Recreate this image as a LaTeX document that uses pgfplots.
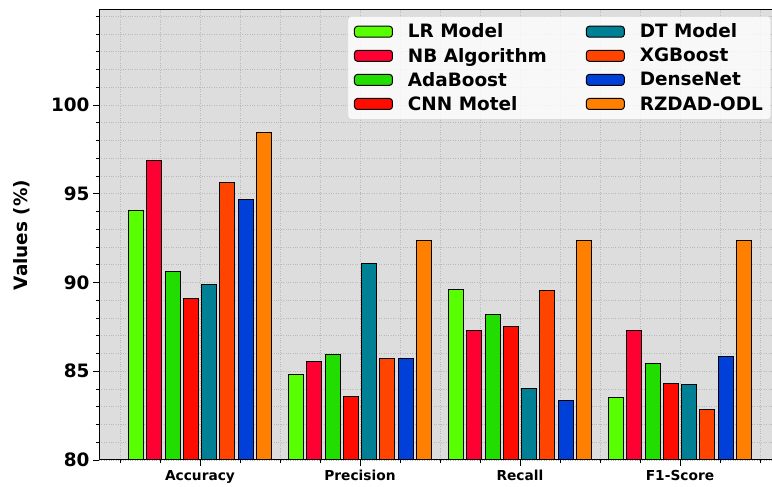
\documentclass[border=0pt]{standalone}
\usepackage{fontspec}
\setmainfont{DejaVu Sans}
\usepackage{pgfplots}
\pgfplotsset{compat=1.18}
\definecolor{bgc}{RGB}{221,221,221}
\definecolor{clr}{RGB}{88,255,0}
\definecolor{cnb}{RGB}{255,0,51}
\definecolor{cada}{RGB}{34,221,0}
\definecolor{ccnn}{RGB}{255,12,0}
\definecolor{cdt}{RGB}{0,128,148}
\definecolor{cxgb}{RGB}{255,68,0}
\definecolor{cden}{RGB}{0,64,216}
\definecolor{crz}{RGB}{255,128,0}
\begin{document}
\begin{tikzpicture}[x=1bp,y=1bp]
\useasboundingbox (0,0) rectangle (772,487);
\begin{axis}[
  at={(99bp,27bp)}, anchor=south west,
  scale only axis, width=676bp, height=450bp,
  xmin=-0.631, xmax=3.594, ymin=80, ymax=105.35,
  axis background/.style={fill=bgc},
  ybar, bar width=0.094,
  xtick={0,1,2,3}, xticklabels={Accuracy,Precision,Recall,F1-Score},
  minor xtick={-0.5,-0.25,0.25,0.5,0.75,1.25,1.5,1.75,2.25,2.5,2.75,3.25,3.5},
  ytick={80,85,90,95,100},
  minor ytick={81,82,83,84,86,87,88,89,91,92,93,94,96,97,98,99,101,102,103,104,105},
  grid=both,
  major grid style={dotted, gray!55, line width=0.6bp},
  minor grid style={dotted, gray!55, line width=0.6bp},
  tick align=outside, major tick length=6bp, minor tick length=3.5bp,
  tick style={black, line width=0.8bp},
  xtick pos=bottom, ytick pos=left,
  axis line style={black, line width=1bp},
  /pgf/number format/assume math mode=true,
  yticklabel style={font=\fontsize{18.5}{20}\selectfont\bfseries},
  xticklabel style={font=\fontsize{13.8}{16}\selectfont\bfseries, yshift=-1bp},
  every axis y label/.style={at={(axis description cs:-0.1139,0.5)}, anchor=center, rotate=90, font=\fontsize{18.5}{20}\selectfont\bfseries},
  ylabel={Values (\%)},
  legend columns=4, transpose legend,
  legend cell align=left,
  legend image code/.code={\draw[#1,line width=1bp,fill opacity=1,draw opacity=1] (0bp,-5.5bp) rectangle (38bp,5.5bp);},
  legend style={at={(axis description cs:0.368,0.986)}, anchor=north west,
    fill=white, fill opacity=0.8, text opacity=1, draw=gray!35, rounded corners=3bp,
    font=\fontsize{18.5}{21}\selectfont\bfseries, row sep=4.6bp,
    /tikz/every odd column/.append style={column sep=13bp},
    /tikz/every even column/.append style={column sep=37bp},
    inner xsep=6bp, inner ysep=5.5bp},
]
\addplot[fill=clr, draw=black, line width=1bp, bar shift=-0.399] coordinates {(0,94.05) (1,84.8) (2,89.6) (3,83.5)};
\addlegendentry{LR Model}
\addplot[fill=cnb, draw=black, line width=1bp, bar shift=-0.285] coordinates {(0,96.85) (1,85.55) (2,87.27) (3,87.27)};
\addlegendentry{NB Algorithm}
\addplot[fill=cada, draw=black, line width=1bp, bar shift=-0.171] coordinates {(0,90.6) (1,85.97) (2,88.17) (3,85.45)};
\addlegendentry{AdaBoost}
\addplot[fill=ccnn, draw=black, line width=1bp, bar shift=-0.057] coordinates {(0,89.12) (1,83.6) (2,87.5) (3,84.32)};
\addlegendentry{CNN Motel}
\addplot[fill=cdt, draw=black, line width=1bp, bar shift=0.057] coordinates {(0,89.9) (1,91.08) (2,84.02) (3,84.24)};
\addlegendentry{DT Model}
\addplot[fill=cxgb, draw=black, line width=1bp, bar shift=0.171] coordinates {(0,95.65) (1,85.73) (2,89.52) (3,82.84)};
\addlegendentry{XGBoost}
\addplot[fill=cden, draw=black, line width=1bp, bar shift=0.285] coordinates {(0,94.69) (1,85.73) (2,83.36) (3,85.84)};
\addlegendentry{DenseNet}
\addplot[fill=crz, draw=black, line width=1bp, bar shift=0.399] coordinates {(0,98.44) (1,92.39) (2,92.39) (3,92.39)};
\addlegendentry{RZDAD-ODL}
\end{axis}
\end{tikzpicture}
\end{document}
